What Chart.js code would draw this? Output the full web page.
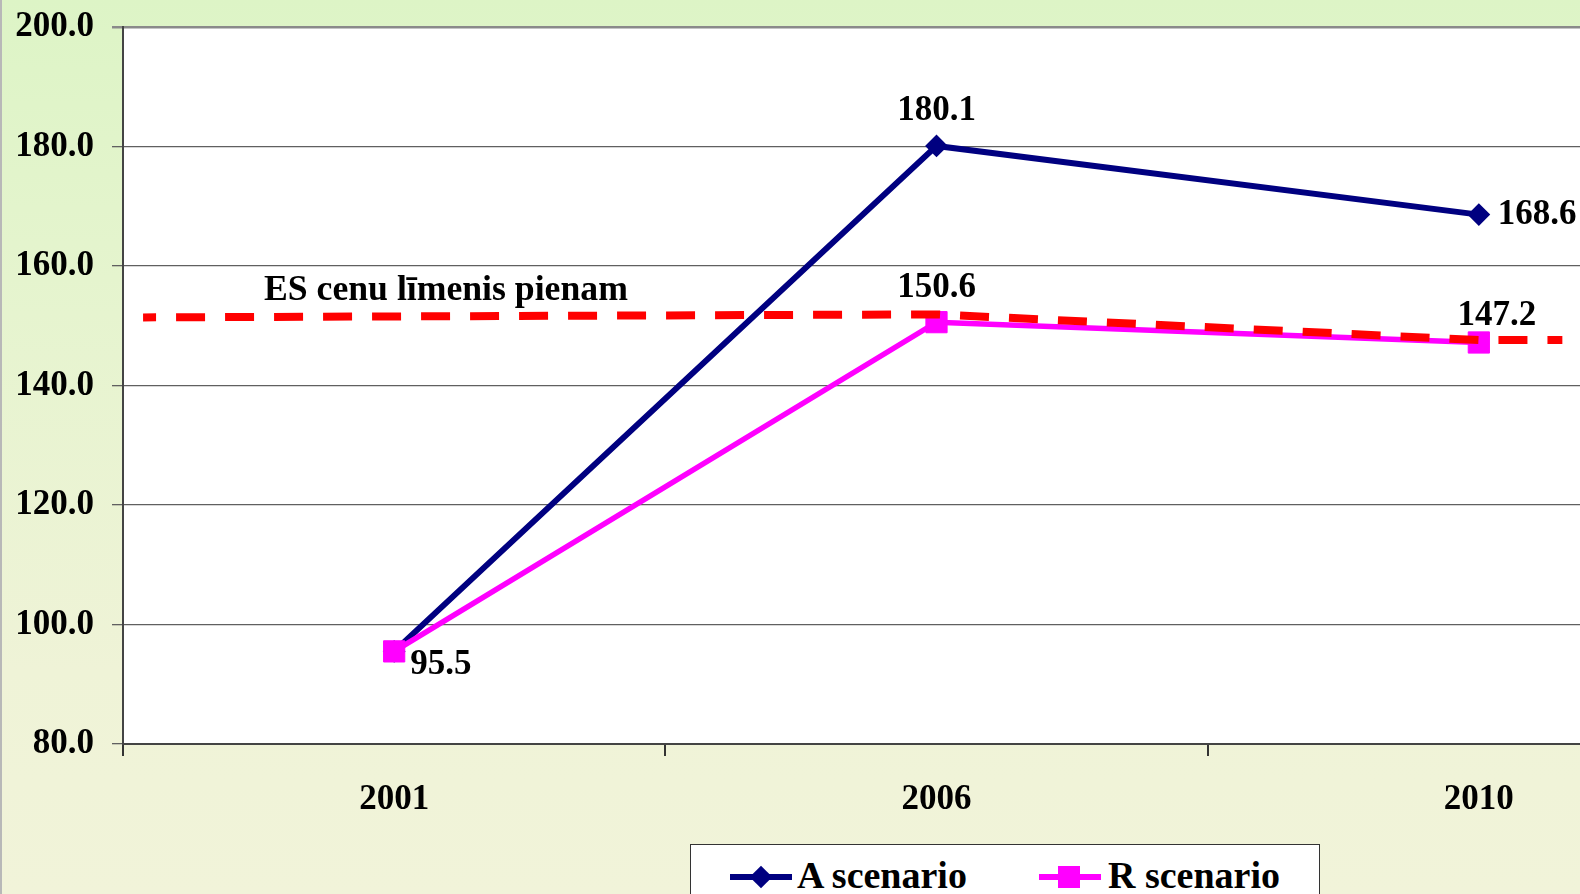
<!DOCTYPE html>
<html>
<head>
<meta charset="utf-8">
<script src="https://cdn.jsdelivr.net/npm/chart.js@4.4.0/dist/chart.umd.min.js"></script>
<style>
  body {
    margin: 0;
    width: 1580px;
    height: 894px;
    overflow: hidden;
    position: relative;
    background: linear-gradient(to bottom, #ddf4c6 0%, #e6f4cf 35%, #eff3d7 75%, #f1f3d9 100%);
    font-family: "Liberation Serif", "Times New Roman", serif;
  }
  #wrap { position: absolute; left: 0; top: 0; width: 1766px; height: 894px; }
  #edge { position: absolute; left: 0; top: 0; width: 2px; height: 894px; background: #b8b8b8; }
  #legend {
    position: absolute; left: 690px; top: 844px; width: 630px; height: 70px;
    background: #fff; border: 1.5px solid #333; box-sizing: border-box;
  }
  .lg-line { position: absolute; height: 6px; width: 62px; top: 29px; }
  .lg-text { position: absolute; top: 8px; font-size: 38px; font-weight: bold; color: #000; line-height: 44px; }
  .diamond { position: absolute; width: 16px; height: 16px; background: #000080; transform: rotate(45deg); top: 24px; }
  .square { position: absolute; width: 22px; height: 22px; background: #ff00ff; top: 21px; }
</style>
</head>
<body>
<div id="wrap"><canvas id="myChart" width="1766" height="894"></canvas></div>
<div id="edge"></div>
<div id="legend">
  <div class="lg-line" style="left:39px;background:#000080"></div>
  <div class="diamond" style="left:62px"></div>
  <div class="lg-text" style="left:106px">A scenario</div>
  <div class="lg-line" style="left:348px;background:#ff00ff"></div>
  <div class="square" style="left:367px"></div>
  <div class="lg-text" style="left:417px">R scenario</div>
</div>
<script>
// values
const years = ['2001', '2006', '2010'];
const scenarioA = [95.5, 180.1, 168.6];
const scenarioR = [95.5, 150.6, 147.2];
// EU milk price level, dashed line (x in category units)
const esLevelX = [-0.463, 1, 2, 2.154];
const esLevelY = [151.4, 151.9, 147.6, 147.6];
const esLabel = 'ES cenu līmenis pienam';

const FONT = '"Liberation Serif", "Times New Roman", serif';

const toPoints = arr => arr.map((v, i) => ({ x: i, y: v }));

// which value labels get drawn, and where relative to the point
const labelSpots = [
    { ds: 1, i: 0, dx: 16, dy: 14, align: 'left' },
    { ds: 2, i: 1, dx: 0, dy: -35, align: 'center' },
    { ds: 2, i: 2, dx: 19, dy: 0, align: 'left' },
    { ds: 1, i: 1, dx: 0, dy: -34, align: 'center' },
    { ds: 1, i: 2, dx: 18, dy: -27, align: 'center' }
];

const plotBg = {
    id: 'plotBg',
    beforeDraw(chart) {
        const { ctx, chartArea: a } = chart;
        ctx.save();
        ctx.fillStyle = '#ffffff';
        ctx.fillRect(a.left, a.top, a.right - a.left, a.bottom - a.top);
        ctx.restore();
    }
};

const valueLabels = {
    id: 'valueLabels',
    afterDatasetsDraw(chart) {
        const ctx = chart.ctx;
        ctx.save();
        ctx.font = 'bold 35px ' + FONT;
        ctx.fillStyle = '#000';
        ctx.textBaseline = 'middle';
        labelSpots.forEach(s => {
            const el = chart.getDatasetMeta(s.ds).data[s.i];
            const val = chart.data.datasets[s.ds].data[s.i].y;
            ctx.textAlign = s.align;
            ctx.fillText(val.toFixed(1), el.x + s.dx, el.y + s.dy);
        });
        // the dashed line caption
        const xs = chart.scales.x, ys = chart.scales.y;
        ctx.font = 'bold 35.7px ' + FONT;
        ctx.textAlign = 'left';
        ctx.fillText(esLabel, xs.getPixelForValue(-0.24), ys.getPixelForValue(155.8));
        ctx.restore();
    }
};

const data = {
    datasets: [
        {
            label: esLabel,
            data: esLevelX.map((x, i) => ({ x: x, y: esLevelY[i] })),
            borderColor: '#ff0000',
            borderWidth: 8,
            borderDash: [29, 20],
            borderDashOffset: 16,
            borderCapStyle: 'butt',
            pointRadius: 0,
            order: 0
        },
        {
            label: 'R scenario',
            data: toPoints(scenarioR),
            borderColor: '#ff00ff',
            backgroundColor: '#ff00ff',
            borderWidth: 5.5,
            pointStyle: 'rect',
            pointRadius: 15,
            pointBorderWidth: 1,
            order: 1
        },
        {
            label: 'A scenario',
            data: toPoints(scenarioA),
            borderColor: '#000080',
            backgroundColor: '#000080',
            borderWidth: 6,
            pointStyle: 'rectRot',
            pointRadius: 10,
            pointBorderWidth: 2,
            order: 2
        }
    ]
};

const config = {
    type: 'line',
    data: data,
    plugins: [plotBg, valueLabels],
    options: {
        responsive: false,
        animation: false,
        layout: { padding: { top: 27, right: 4, left: 0, bottom: 0 } },
        plugins: { legend: { display: false }, tooltip: { enabled: false } },
        elements: { line: { tension: 0 } },
        scales: {
            x: {
                type: 'linear',
                min: -0.5,
                max: 2.5,
                afterBuildTicks: s => {
                    s.ticks = [-0.5, 0, 0.5, 1, 1.5, 2, 2.5].map(v => ({ value: v }));
                },
                afterFit: s => {
                    s.height = 150;
                    s.paddingLeft = 0;
                    s.paddingRight = 0;
                },
                ticks: {
                    autoSkip: false,
                    maxRotation: 0,
                    padding: 23,
                    color: '#000',
                    font: { family: FONT, size: 35, weight: 'bold' },
                    callback: v => Number.isInteger(v) ? years[v] : ''
                },
                grid: {
                    drawOnChartArea: false,
                    drawTicks: true,
                    tickLength: 12,
                    lineWidth: 2,
                    color: c => (c.tick && Number.isInteger(c.tick.value)) ? 'rgba(0,0,0,0)' : '#333'
                },
                border: { color: '#444', width: 2 }
            },
            y: {
                min: 80,
                max: 200,
                afterFit: s => {
                    s.width = 123;
                    s.paddingTop = 0;
                    s.paddingBottom = 0;
                },
                ticks: {
                    stepSize: 20,
                    padding: 18,
                    color: '#000',
                    font: { family: FONT, size: 35, weight: 'bold' },
                    callback: v => v.toFixed(1)
                },
                grid: {
                    tickLength: 11,
                    color: c => (c.tick && c.tick.value === 200) ? '#8a8a8a' : '#606060',
                    lineWidth: c => (c.tick && c.tick.value === 200) ? 2.5 : 1.3
                },
                border: { color: '#444', width: 2 }
            }
        }
    }
};

const chart = new Chart(document.getElementById('myChart'), config);
</script>
</body>
</html>
